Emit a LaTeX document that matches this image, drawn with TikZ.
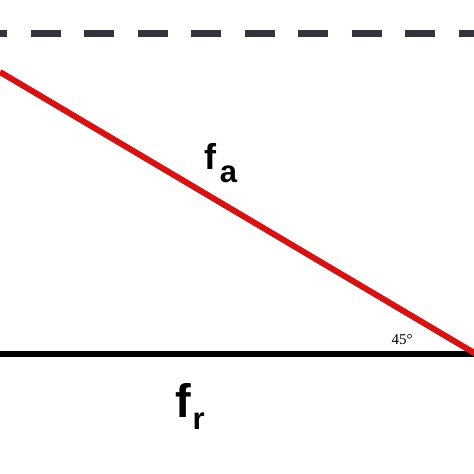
\documentclass[tikz,border=0pt]{standalone}
\usepackage{fontspec}
\setmainfont{Liberation Serif}
\setsansfont{Liberation Sans}
\definecolor{forcered}{RGB}{214,18,18}
\definecolor{dashgray}{RGB}{52,52,60}
\begin{document}
\begin{tikzpicture}[x=1pt,y=-1pt]
        \tikzstyle{every node}=[inner sep=0pt, outer sep=0pt]
        \tikzstyle{force}=[font=\sffamily\bfseries, anchor=base west]
        \tikzstyle{dashline}=[draw=dashgray, line width=7pt, dash pattern=on 30pt off 23.5pt, dash phase=23pt]
        \useasboundingbox (0,0) rectangle (474,474);
        \coordinate (topL) at (0,33);
        \coordinate (topR) at (474,33);
        \coordinate (redL) at (0,72);
        \coordinate (baseL) at (0,354);
        \coordinate (baseR) at (476,354);
        \draw[dashline] (topL) -- (topR);
        \draw[black, line width=6pt] (baseL) -- (baseR);
        \draw[forcered, line width=6pt] (redL) -- (baseR);
        \node[force] (fa) at (204,169) {\fontsize{36}{36}\selectfont f\hspace{4pt}\raisebox{-13pt}{\fontsize{31}{31}\selectfont a}};
        \node[force] (fr) at (175,417) {\fontsize{47}{47}\selectfont f\hspace{2pt}\raisebox{-12pt}{\fontsize{31}{31}\selectfont r}};
        \node (ang) at (402,340) {\fontsize{15}{15}\selectfont 45°};
    \end{tikzpicture}
\end{document}
